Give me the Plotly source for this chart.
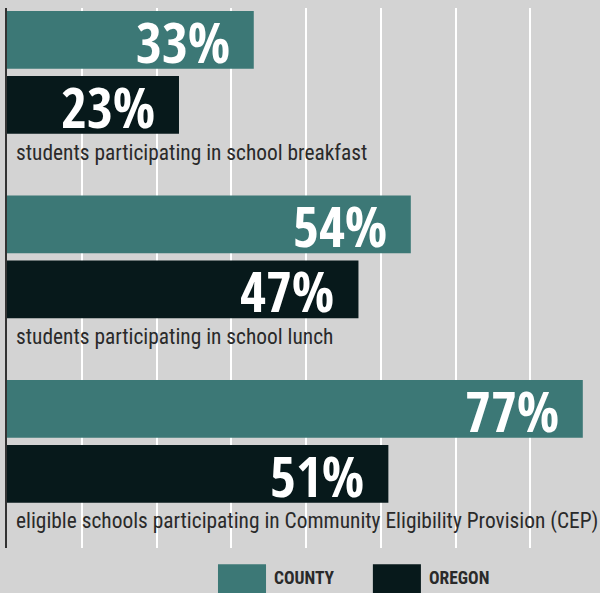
import plotly.graph_objects as go

categories = [
    "students participating in school breakfast",
    "students participating in school lunch",
    "eligible schools participating in Community Eligibility Provision (CEP)",
]
county_values = [33, 54, 77]
oregon_values = [23, 47, 51]
series_names = ["COUNTY", "OREGON"]

COUNTY_COLOR = "#3c7876"
OREGON_COLOR = "#07191b"
BG = "#d3d3d3"
TEXT = "#2a2a2a"
LABEL_FONT = "Roboto Condensed, Liberation Sans Narrow, sans-serif"
BIG_FONT = "Open Sans Condensed, Roboto Condensed, sans-serif"

GROUP_PITCH = 2.84
county_y = [i * GROUP_PITCH for i in range(len(categories))]
oregon_y = [i * GROUP_PITCH + 1 for i in range(len(categories))]

fig = go.Figure()
fig.add_trace(go.Bar(x=county_values, y=county_y, orientation="h", width=0.89,
                     marker=dict(color=COUNTY_COLOR, line=dict(width=0)),
                     name=series_names[0], showlegend=False, hoverinfo="x"))
fig.add_trace(go.Bar(x=oregon_values, y=oregon_y, orientation="h", width=0.89,
                     marker=dict(color=OREGON_COLOR, line=dict(width=0)),
                     name=series_names[1], showlegend=False, hoverinfo="x"))

ann = []
for vals, ys in ((county_values, county_y), (oregon_values, oregon_y)):
    for v, y in zip(vals, ys):
        ann.append(dict(x=v, y=y, xref="x", yref="y", text=f"<b>{v}%</b>",
                        showarrow=False, xanchor="right", yanchor="middle",
                        xshift=-22, yshift=-1,
                        font=dict(family=BIG_FONT, size=56, color="white")))
for c, y in zip(categories, oregon_y):
    ann.append(dict(x=0, y=y + 0.73, xref="x", yref="y", text=c, showarrow=False,
                    xanchor="left", yanchor="middle", xshift=7,
                    font=dict(family=LABEL_FONT, size=21.4, color=TEXT)))

# legend (custom large swatches)
legend_pos = [(0.3558, 0.4368), (0.617, 0.698)]
colors = [COUNTY_COLOR, OREGON_COLOR]
shapes = []
for (x0, x1), col, name in zip(legend_pos, colors, series_names):
    shapes.append(dict(type="rect", xref="paper", yref="paper", x0=x0, x1=x1,
                       y0=-0.03, y1=-0.2, fillcolor=col, line=dict(width=0)))
    ann.append(dict(x=x1 + 0.01, y=-0.056, xref="paper", yref="paper",
                    text=f"<b>{name}</b>", showarrow=False, xanchor="left",
                    yanchor="middle", font=dict(family=LABEL_FONT, size=17.5, color=TEXT)))

fig.update_layout(
    width=600, height=593,
    margin=dict(l=7, r=0, t=8, b=45),
    paper_bgcolor=BG, plot_bgcolor=BG,
    barmode="overlay",
    annotations=ann, shapes=shapes,
    xaxis=dict(range=[0, 79.3], dtick=10, showticklabels=False, showgrid=True,
               gridcolor="white", gridwidth=1.5, zeroline=False, showline=False,
               fixedrange=True),
    yaxis=dict(range=[7.82, -0.49], showticklabels=False, showgrid=False,
               zeroline=False, showline=True, linecolor="#333333", linewidth=2,
               fixedrange=True),
)

fig.write_html("out.html", config={"displayModeBar": False},
               post_script="document.body.style.margin='0';")
